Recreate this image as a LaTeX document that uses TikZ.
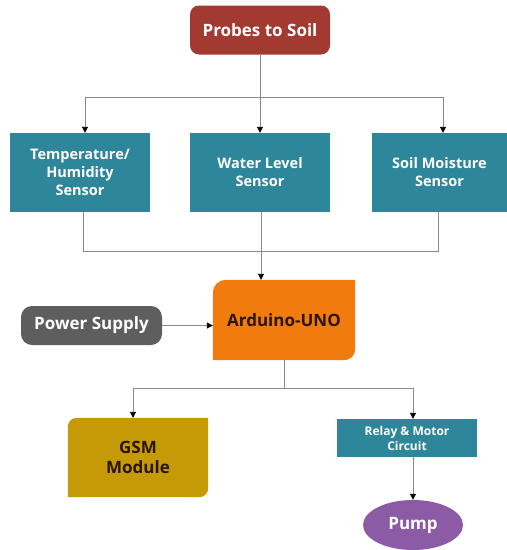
\documentclass[tikz,border=0pt]{standalone}
\usepackage{fontspec}
\setmainfont{Open Sans}
\usetikzlibrary{arrows.meta,shapes.geometric,calc}
\definecolor{cred}{HTML}{A33A31}
\definecolor{cteal}{HTML}{2D8699}
\definecolor{corange}{HTML}{F27B10}
\definecolor{cgray}{HTML}{5E5E5E}
\definecolor{cgold}{HTML}{C59A06}
\definecolor{cpurple}{HTML}{8C5BA5}
\definecolor{cline}{HTML}{8A8A8A}
\definecolor{cdark}{HTML}{2A1500}
\tikzset{
  box/.style={fill=cteal,text=white,font=\bfseries\fontsize{14.5}{18}\selectfont,align=center,
    minimum width=140pt,minimum height=79pt,inner sep=2pt},
  plainnode/.style={inner sep=0pt,align=center,font=\bfseries\fontsize{17}{20}\selectfont},
  conn/.style={draw=cline,line width=0.9pt},
  arr/.style={conn,-{Triangle[length=6pt,width=6pt,fill=black,color=black]}},
}
\begin{document}
\begin{tikzpicture}[x=1pt,y=-1pt]
\useasboundingbox (0,0) rectangle (507,550);
\fill[white] (0,0) rectangle (507,550);

% nodes
\node[plainnode,fill=cred,text=white,rounded corners=9pt,minimum width=140pt,minimum height=49pt] (probes) at (260,30) {Probes to Soil};
\node[box] (temp) at (80,172.5) {Temperature/\\Humidity\\Sensor};
\node[box] (water) at (260,172.5) {Water Level\\Sensor};
\node[box,minimum width=135pt] (soil) at (439.5,172.5) {Soil Moisture\\Sensor};

\node[plainnode,minimum width=142pt,minimum height=80pt] (ard) at (284,320) {};
\fill[corange] (ard.south west) -- ([yshift=-13pt]ard.north west) arc[start angle=180,end angle=90,radius=13pt]
   -- (ard.north east) -- ([yshift=11pt]ard.south east) arc[start angle=0,end angle=-90,radius=11pt] -- cycle;
\node[plainnode,text=cdark] at (ard.center) {Arduino-UNO};

\node[plainnode,fill=cgray,text=white,rounded corners=11pt,minimum width=141pt,minimum height=39pt] (power) at (91.5,325.5) {Power Supply};

\node[plainnode,minimum width=140pt,minimum height=79pt] (gsm) at (138,457.5) {};
\fill[cgold] (gsm.south west) -- ([yshift=-9pt]gsm.north west) arc[start angle=180,end angle=90,radius=9pt]
   -- (gsm.north east) -- ([yshift=9pt]gsm.south east) arc[start angle=0,end angle=-90,radius=9pt] -- cycle;
\node[plainnode,text=cdark,font=\bfseries\fontsize{17}{20}\selectfont] at (gsm.center) {GSM\\Module};

\node[box,minimum height=38pt,font=\bfseries\fontsize{12}{15}\selectfont] (relay) at (407,438) {Relay \& Motor\\Circuit};
\node[plainnode,ellipse,fill=cpurple,text=white,minimum width=100pt,minimum height=50pt,inner sep=0pt] (pump) at (413,525) {Pump};

% connectors
\coordinate (split1) at (260,97);
\coordinate (join) at (261,251);
\coordinate (split2) at (284,388);

\draw[conn] (probes.south) -- (split1);
\draw[arr] (split1) -| ([xshift=5pt]temp.north);
\draw[arr] (split1) -- (water.north);
\draw[arr] (split1) -| ([xshift=3.5pt]soil.north);

\draw[conn] ([xshift=3pt]temp.south) |- (join);
\draw[conn] ([xshift=-1.5pt]soil.south) |- (join);
\draw[arr] ([xshift=1pt]water.south) -- ([xshift=1pt]water.south |- ard.north);

\draw[arr] (power.east) -- (power.east -| ard.west);

\draw[conn] (ard.south) -- (split2);
\draw[arr] (split2) -| ([xshift=-5pt]gsm.north);
\draw[arr] (split2) -| (pump |- relay.north);
\draw[arr] (pump |- relay.south) -- (pump.north);
\end{tikzpicture}
\end{document}
